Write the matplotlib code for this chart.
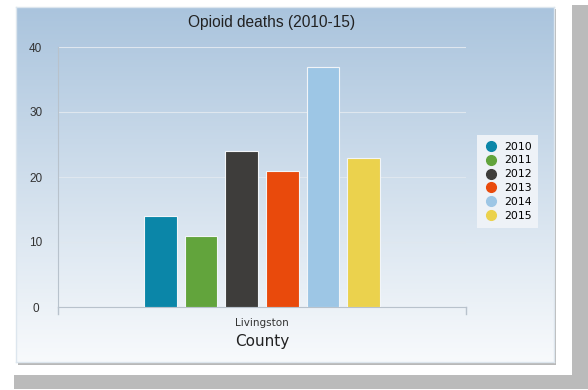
import numpy as np
import matplotlib
matplotlib.use('Agg')
import matplotlib.pyplot as plt
from matplotlib.patches import Rectangle
from matplotlib.lines import Line2D

# Data
county = 'Livingston'
years = ['2010', '2011', '2012', '2013', '2014', '2015']
deaths = [14, 11, 24, 21, 37, 23]
colors = ['#0b86a8', '#62a43c', '#3e3d3b', '#e94a0c', '#9dc6e5', '#ebd24d']

W, H = 588, 390
fig = plt.figure(figsize=(W / 100, H / 100), dpi=100, facecolor='white')

def fx(px):
    return px / W

def fy(py):
    return 1 - py / H

# gray bands around the card
fig.patches.append(Rectangle((fx(572), fy(375)), fx(16), 370 / H, transform=fig.transFigure,
                             facecolor='#bbbbbb', edgecolor='none', zorder=0))
fig.patches.append(Rectangle((fx(14), fy(389)), fx(574), 14 / H, transform=fig.transFigure,
                             facecolor='#bbbbbb', edgecolor='none', zorder=0))
# shadow
fig.patches.append(Rectangle((fx(18), fy(365)), fx(538), 356 / H, transform=fig.transFigure,
                             facecolor='#b8b8b8', edgecolor='none', zorder=0))

# gradient panel
bg = fig.add_axes([fx(16), fy(362), fx(538), 355 / H], zorder=1)
top = np.array([170, 196, 221]) / 255
bot = np.array([248, 250, 252]) / 255
t = np.linspace(0, 1, 256)[:, None]
grad = top[None, :] * (1 - t) + bot[None, :] * t
bg.imshow(grad[:, None, :], aspect='auto', extent=[0, 1, 0, 1])
bg.set_xlim(0, 1)
bg.set_ylim(0, 1)
for s in bg.spines.values():
    s.set_color('#dde6ee')
    s.set_linewidth(1)
bg.set_xticks([])
bg.set_yticks([])

fig.text(fx(272), fy(22.5), 'Opioid deaths (2010-15)', ha='center', va='center',
         fontsize=11.2, family='Liberation Sans', color='#222222', zorder=5)

# chart
ax = fig.add_axes([fx(58), fy(307), fx(408), 260 / H], zorder=2)
ax.patch.set_alpha(0)
pitch = 40.6 / 408
bw = 32.5 / 408
for i, (y, v, c) in enumerate(zip(years, deaths, colors)):
    ax.bar((i - 2.5) * pitch, v, width=bw, color=c, edgecolor='#f2f5f8',
           linewidth=0.8, label=y, zorder=3)

ax.set_xlim(-0.5, 0.5)
ax.set_ylim(0, 40)
ax.set_yticks([0, 10, 20, 30, 40])
ax.yaxis.grid(True, color='#dfe7ef', linewidth=0.8)
ax.set_axisbelow(True)
ax.tick_params(axis='y', length=0, pad=16, labelsize=8.5, labelcolor='#333333')
for lab in ax.get_yticklabels():
    lab.set_family('Liberation Sans')
    lab.set_horizontalalignment('center')
ax.set_xticks([0])
ax.set_xticklabels([county], fontsize=7.5, color='#333333', family='DejaVu Sans')
ax.tick_params(axis='x', length=0, pad=8)
ax.set_xlabel('County', fontsize=11, color='#222222', family='DejaVu Sans', labelpad=4)
for side in ['top', 'right']:
    ax.spines[side].set_visible(False)
ax.spines['left'].set_color('#b8c2cc')
ax.spines['bottom'].set_color('#b8c2cc')
ax.spines['left'].set_bounds(0, 40)

# end ticks on x axis
for xp in [-0.5, 0.5]:
    ax.add_line(Line2D([xp, xp], [0, -1.0], color='#b8c2cc', linewidth=1, clip_on=False))

handles = [Line2D([], [], marker='o', ls='', color=c, markersize=7) for c in colors]
leg = fig.legend(handles, years, loc='upper left', bbox_to_anchor=(fx(477), fy(135)),
                 frameon=True, handletextpad=0.6, labelspacing=0.36,
                 borderpad=0.6, handlelength=1.3, borderaxespad=0,
                 prop={'family': 'DejaVu Sans', 'size': 7.8})
leg.get_frame().set_facecolor('#eef2f7')
leg.get_frame().set_edgecolor('none')
leg.get_frame().set_alpha(1)
leg.get_frame().set_boxstyle('square', pad=0)
leg.set_zorder(6)

fig.savefig('out.png', dpi=100, facecolor='white')
